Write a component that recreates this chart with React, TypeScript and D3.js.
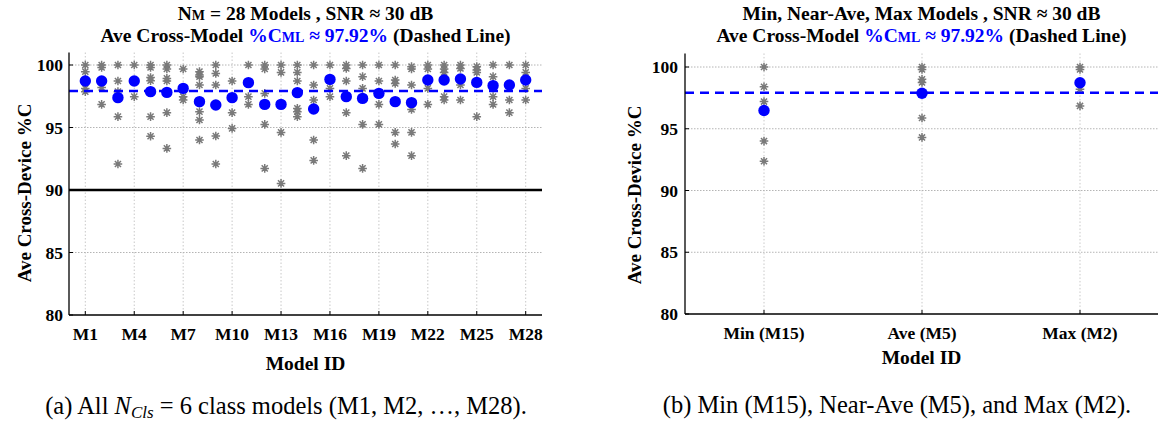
import React from "react";
import * as d3 from "d3";

const modelIds = ["M1","M2","M3","M4","M5","M6","M7","M8","M9","M10","M11","M12","M13","M14","M15","M16","M17","M18","M19","M20","M21","M22","M23","M24","M25","M26","M27","M28"];
const meanCML = [98.72,98.72,97.39,98.72,97.87,97.81,98.13,97.07,96.8,97.39,98.59,96.85,96.85,97.79,96.48,98.85,97.47,97.33,97.73,97.07,96.99,98.8,98.8,98.88,98.61,98.35,98.4,98.8];
const deviceCML = [
  [100,99.47,98.13,97.87],
  [100,99.8,98.2,96.85],
  [100,98.72,97.87,95.87,92.08],
  [100,97.47],
  [100,99.8,99.0,98.75,95.87,94.3],
  [100,99.68,98.93,98.72,96.19,93.33],
  [99.68,97.47,97.2],
  [99.47,99.2,99.07,98.4,96.27,95.6,94.0],
  [100,99.33,98.4,94.32,92.08],
  [98.72,97.4,96.19,94.93],
  [100,97.47,96.85],
  [100,99.68,97.73,95.25,91.73],
  [100,99.41,94.61,90.53],
  [100,99.41,98.72,96.53,96.27,95.87],
  [100,98.4,97.2,94.0,92.37],
  [100,98.13,97.47],
  [100,99.73,98.72,96.19,92.75],
  [100,99.07,98.13,95.25,91.73],
  [100,98.72,96.85,95.25],
  [100,98.8,98.53,94.61,93.68],
  [99.87,99.68,98.4,96.45,94.61,92.75],
  [100,99.68,98.13,96.85],
  [100,99.68,99.41,97.47,97.2],
  [100,99.73,98.4,97.2],
  [99.87,99.6,99.41,95.87],
  [100,99.07,97.47,96.85],
  [100,97.2,96.19],
  [100,99.41,98.13,97.2],
];
const xTickLabels = ["M1","M4","M7","M10","M13","M16","M19","M22","M25","M28"];
const yTicks = [80, 85, 90, 95, 100];
const gridY = [85, 95, 100];
const thresholdLine = 90;
const aveCrossModel = 97.92;
const focusLabels = ["Min (M15)", "Ave (M5)", "Max (M2)"];
const focusModels = ["M15", "M5", "M2"];

const FONT = "'Liberation Serif', 'Times New Roman', serif";
const BLUE = "#0000ff";
const GRAY = "#7a7a7a";

function starPath(r: number) {
  const d = r * 0.7071;
  return `M${-r},0L${r},0M0,${-r}L0,${r}M${-d},${-d}L${d},${d}M${-d},${d}L${d},${-d}`;
}
const STAR = starPath(4.3);

function Title({ cx, line1 }: { cx: number; line1: React.ReactNode }) {
  return (
    <g fontFamily={FONT} fontWeight="bold" fontSize={19.5} textAnchor="middle" fill="#000">
      <text x={cx} y={20}>{line1}</text>
      <text x={cx} y={42}>
        Ave Cross-Model{" "}
        <tspan fill={BLUE}>%C<tspan fontSize={14}>ML</tspan> ≈ 97.92%</tspan> (Dashed Line)
      </text>
    </g>
  );
}

export default function App() {
  // Left panel scales
  const xL = d3.scaleLinear().domain([0, 29]).range([69, 542]);
  const yL = d3.scaleLinear().domain([80, 100]).range([315, 65]);
  const topL = yL(101);
  const xi = (id: string) => xL(modelIds.indexOf(id) + 1);

  // Right panel scales
  const xR = d3.scalePoint<string>().domain(focusLabels).range([764, 1080]);
  const yR = d3.scaleLinear().domain([80, 100]).range([314, 67]);
  const topR = yR(101.1);
  const rLeft = 685;
  const rRight = 1158;

  return (
    <svg width={1158} height={427} style={{ position: "absolute", left: 0, top: 0, background: "#fff" }}>
      <rect width={1158} height={427} fill="#fff" />
      {/* ================= LEFT PANEL ================= */}
      <Title
        cx={(xL(0) + xL(29)) / 2}
        line1={<>N<tspan fontSize={14}>M</tspan> = 28 Models , SNR ≈ 30 dB</>}
      />
      {xTickLabels.map((t) => (
        <line key={"gv" + t} x1={xi(t)} x2={xi(t)} y1={topL} y2={yL(80)} stroke="#c8c8c8" strokeWidth={1} strokeDasharray="1.5,2" />
      ))}
      {gridY.map((v) => (
        <line key={"gh" + v} x1={xL(0)} x2={xL(29)} y1={yL(v)} y2={yL(v)} stroke="#b4b4b4" strokeWidth={1} strokeDasharray="1.5,1.5" />
      ))}
      <line x1={xL(0)} x2={xL(29)} y1={yL(thresholdLine)} y2={yL(thresholdLine)} stroke="#000" strokeWidth={2.5} />
      {deviceCML.map((vals, i) =>
        vals.map((v, j) => (
          <path key={`s${i}-${j}`} d={STAR} transform={`translate(${xL(i + 1)},${yL(v)})`} stroke={GRAY} strokeWidth={1.5} fill="none" />
        ))
      )}
      <line x1={xL(0)} x2={xL(29)} y1={yL(aveCrossModel)} y2={yL(aveCrossModel)} stroke={BLUE} strokeWidth={2.5} strokeDasharray="9,6" />
      {meanCML.map((v, i) => (
        <circle key={"m" + i} cx={xL(i + 1)} cy={yL(v)} r={5.7} fill={BLUE} />
      ))}
      <line x1={xL(0)} x2={xL(0)} y1={topL} y2={yL(80)} stroke="#000" strokeWidth={1.3} />
      <line x1={xL(0)} x2={xL(29)} y1={yL(80)} y2={yL(80)} stroke="#000" strokeWidth={1.3} />
      {xTickLabels.map((t) => (
        <g key={"xt" + t}>
          <line x1={xi(t)} x2={xi(t)} y1={yL(80)} y2={yL(80) - 4} stroke="#000" strokeWidth={1} />
          <text x={xi(t)} y={340} textAnchor="middle" fontFamily={FONT} fontWeight="bold" fontSize={17.5}>{t}</text>
        </g>
      ))}
      {yTicks.map((v) => (
        <g key={"yt" + v}>
          <line x1={xL(0)} x2={xL(0) + 4} y1={yL(v)} y2={yL(v)} stroke="#000" strokeWidth={1} />
          <text x={xL(0) - 6} y={yL(v) + 6} textAnchor="end" fontFamily={FONT} fontWeight="bold" fontSize={17.5}>{v}</text>
        </g>
      ))}
      <text transform={`translate(31,193) rotate(-90)`} textAnchor="middle" fontFamily={FONT} fontWeight="bold" fontSize={19}>Ave Cross-Device %C</text>
      <text x={(xL(0) + xL(29)) / 2} y={370} textAnchor="middle" fontFamily={FONT} fontWeight="bold" fontSize={19.5}>Model ID</text>
      <text x={286} y={414} textAnchor="middle" fontFamily={FONT} fontSize={24.5}>
        (a) All <tspan fontStyle="italic">N</tspan><tspan fontStyle="italic" fontSize={17} dy={4}>Cls</tspan><tspan dy={-4}> = 6 class models (M1, M2, …, M28).</tspan>
      </text>

      {/* ================= RIGHT PANEL ================= */}
      <Title cx={(rLeft + rRight) / 2} line1={<>Min, Near-Ave, Max Models , SNR ≈ 30 dB</>} />
      {focusLabels.map((t) => (
        <line key={"rgv" + t} x1={xR(t)!} x2={xR(t)!} y1={topR} y2={yR(80)} stroke="#c8c8c8" strokeWidth={1} strokeDasharray="1.5,2" />
      ))}
      {[85, 90, 95, 100].map((v) => (
        <line key={"rgh" + v} x1={rLeft} x2={rRight} y1={yR(v)} y2={yR(v)} stroke="#b4b4b4" strokeWidth={1} strokeDasharray="1.5,1.5" />
      ))}
      {focusModels.map((m, k) =>
        deviceCML[modelIds.indexOf(m)].map((v, j) => (
          <path key={`rs${k}-${j}`} d={STAR} transform={`translate(${xR(focusLabels[k])},${yR(v)})`} stroke={GRAY} strokeWidth={1.5} fill="none" />
        ))
      )}
      <line x1={rLeft} x2={rRight} y1={yR(aveCrossModel)} y2={yR(aveCrossModel)} stroke={BLUE} strokeWidth={2.5} strokeDasharray="9,6" />
      {focusModels.map((m, k) => (
        <circle key={"rm" + k} cx={xR(focusLabels[k])!} cy={yR(meanCML[modelIds.indexOf(m)])} r={5.7} fill={BLUE} />
      ))}
      <line x1={rLeft} x2={rLeft} y1={topR} y2={yR(80)} stroke="#000" strokeWidth={1.3} />
      <line x1={rLeft} x2={rRight} y1={yR(80)} y2={yR(80)} stroke="#000" strokeWidth={1.3} />
      {focusLabels.map((t) => (
        <g key={"rxt" + t}>
          <line x1={xR(t)!} x2={xR(t)!} y1={yR(80)} y2={yR(80) - 4} stroke="#000" strokeWidth={1} />
          <text x={xR(t)!} y={339} textAnchor="middle" fontFamily={FONT} fontWeight="bold" fontSize={17.5}>{t}</text>
        </g>
      ))}
      {yTicks.map((v) => (
        <g key={"ryt" + v}>
          <line x1={rLeft} x2={rLeft + 4} y1={yR(v)} y2={yR(v)} stroke="#000" strokeWidth={1} />
          <text x={rLeft - 7} y={yR(v) + 6} textAnchor="end" fontFamily={FONT} fontWeight="bold" fontSize={17.5}>{v}</text>
        </g>
      ))}
      <text transform={`translate(641,195) rotate(-90)`} textAnchor="middle" fontFamily={FONT} fontWeight="bold" fontSize={19}>Ave Cross-Device %C</text>
      <text x={(rLeft + rRight) / 2} y={364} textAnchor="middle" fontFamily={FONT} fontWeight="bold" fontSize={19.5}>Model ID</text>
      <text x={897} y={413} textAnchor="middle" fontFamily={FONT} fontSize={24.5}>
        (b) Min (M15), Near-Ave (M5), and Max (M2).
      </text>
    </svg>
  );
}
